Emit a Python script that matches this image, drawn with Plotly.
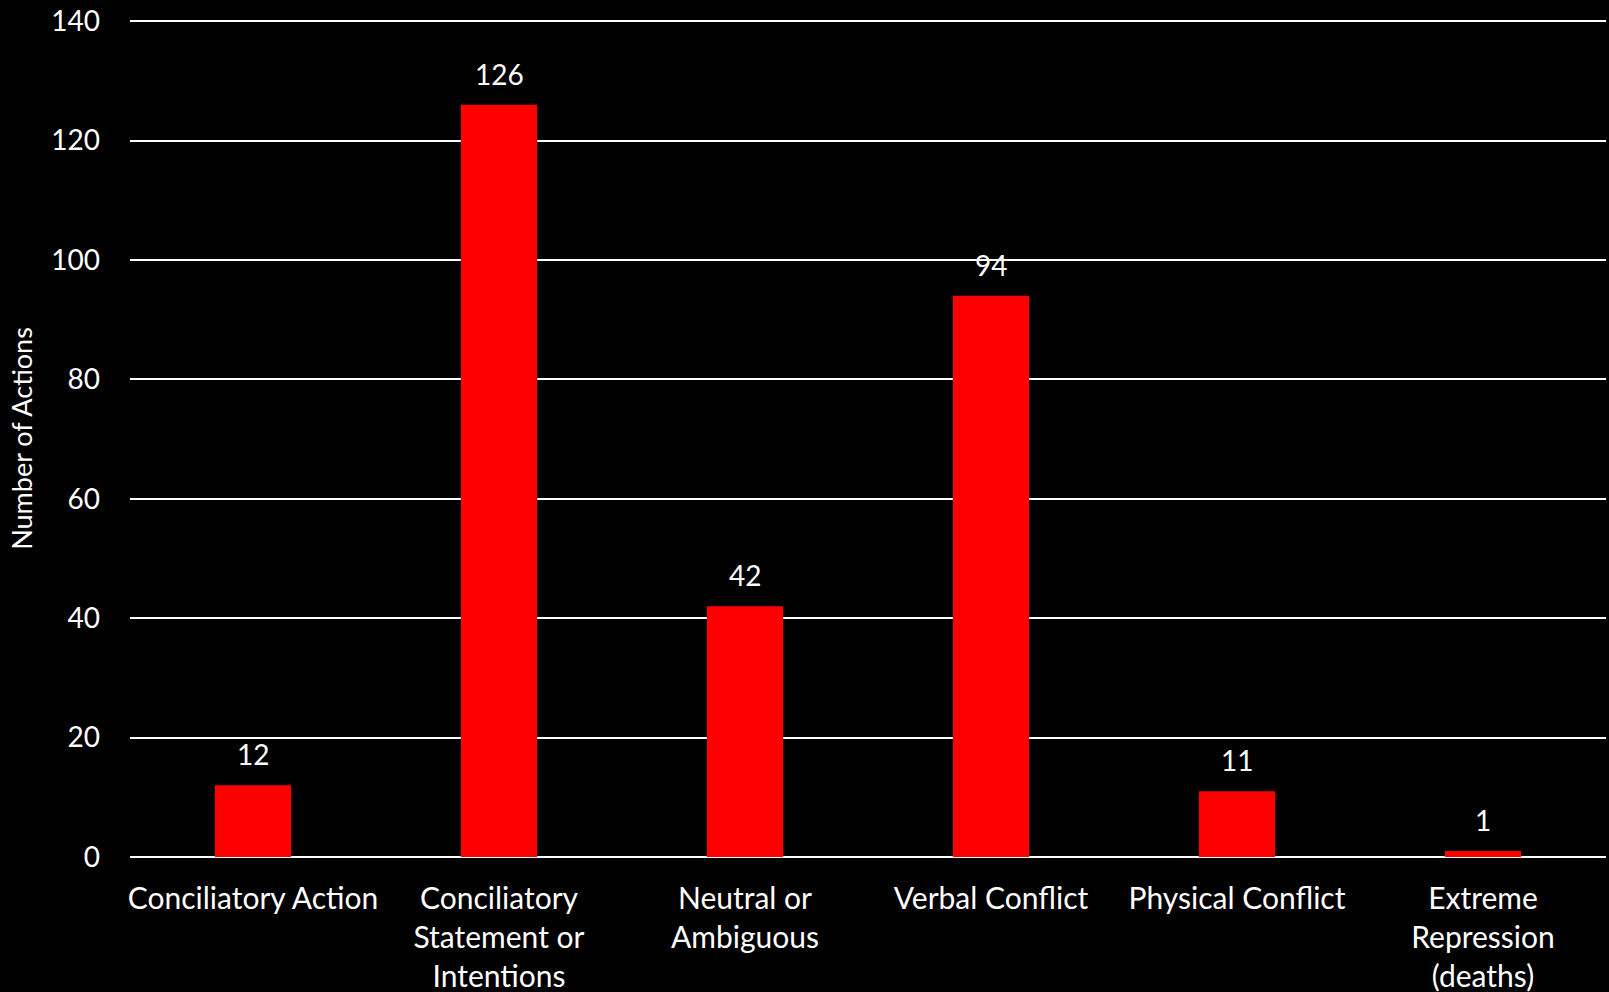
import plotly.graph_objects as go

categories = [
    "Conciliatory Action",
    "Conciliatory<br>Statement or<br>Intentions",
    "Neutral or<br>Ambiguous",
    "Verbal Conflict",
    "Physical Conflict",
    "Extreme<br>Repression<br>(deaths)",
]
values = [12, 126, 42, 94, 11, 1]
y_ticks = [0, 20, 40, 60, 80, 100, 120, 140]

FONT = "Lato, 'Open Sans', sans-serif"

fig = go.Figure(
    go.Bar(
        x=categories,
        y=values,
        marker=dict(color="#ff0000", line=dict(width=0)),
        cliponaxis=False,
    )
)

for c, v in zip(categories, values):
    fig.add_annotation(
        x=c, y=v, text=str(v), showarrow=False,
        yanchor="bottom", yshift=12,
        font=dict(color="white", size=28, family=FONT),
    )

fig.update_layout(
    width=1609,
    height=992,
    paper_bgcolor="black",
    plot_bgcolor="black",
    margin=dict(l=130, r=3, t=20, b=135),
    bargap=0.69,
    showlegend=False,
    font=dict(family=FONT, color="white", size=28),
)

fig.update_xaxes(
    showgrid=False,
    showline=False,
    ticks="",
    ticklabelstandoff=21,
    tickfont=dict(size=30, color="white", family=FONT),
    automargin=False,
)

fig.update_yaxes(
    range=[0, 140.2],
    tickvals=y_ticks,
    showgrid=True,
    gridcolor="white",
    gridwidth=2,
    zeroline=True,
    zerolinecolor="white",
    zerolinewidth=2,
    showline=False,
    ticks="",
    ticklabelstandoff=29,
    tickfont=dict(size=28, color="white", family=FONT),
    title=dict(text="Number of Actions", font=dict(size=27, color="white", family=FONT), standoff=10),
    automargin=False,
)

fig.write_html(
    "out.html",
    config={"displayModeBar": False},
    post_script="document.body.style.margin='0';document.body.style.background='black';",
)
